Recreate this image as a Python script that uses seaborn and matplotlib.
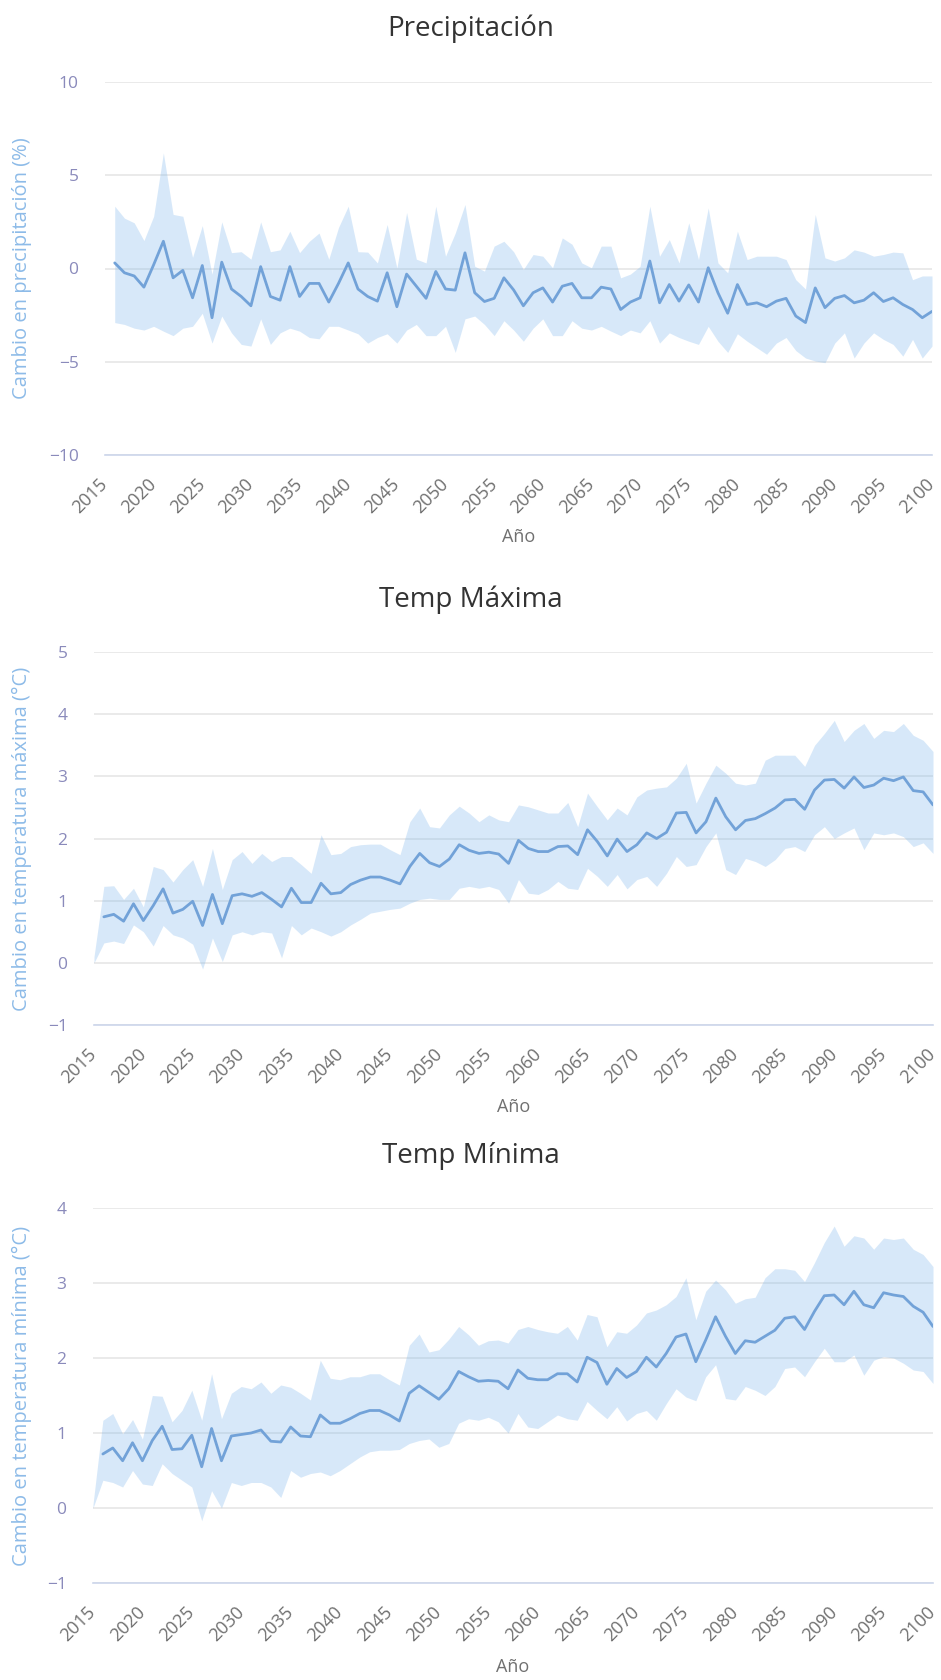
import matplotlib
matplotlib.use("Agg")
import matplotlib.pyplot as plt
import matplotlib.transforms as mtransforms
import seaborn as sns
import numpy as np

# years of the band (2015 is only a baseline point for the band)
years = list(range(2015, 2101))
nan = float('nan')

# ---- Precipitación (%) ----
precMean = [nan,
            0.3, -0.23, -0.4, -1.0, 0.2, 1.46, -0.5, -0.1, -1.57, 0.16,
            -2.64, 0.34, -1.1, -1.5, -2.0, 0.1, -1.5, -1.7, 0.1, -1.5,
            -0.8, -0.8, -1.8, -0.8, 0.3, -1.1, -1.5, -1.75, -0.23, -2.05,
            -0.3, -0.95, -1.6, -0.16, -1.1, -1.16, 0.84, -1.3, -1.77, -1.6,
            -0.5, -1.15, -2.0, -1.3, -1.04, -1.8, -0.95, -0.8, -1.57, -1.57,
            -1.0, -1.1, -2.2, -1.8, -1.57, 0.4, -1.84, -0.86, -1.75, -0.88,
            -1.8, 0.04, -1.3, -2.4, -0.86, -1.93, -1.84, -2.05, -1.75, -1.6,
            -2.55, -2.9, -1.04, -2.1, -1.6, -1.45, -1.84, -1.7, -1.3, -1.77,
            -1.57, -1.93, -2.2, -2.64, -2.3]
precUpper = [nan,
             3.34, 2.7, 2.45, 1.5, 2.8, 6.2, 2.9, 2.8, 0.6, 2.3,
             -0.3, 2.5, 0.85, 0.9, 0.5, 2.5, 0.9, 1.0, 2.0, 0.85,
             1.46, 1.9, 0.5, 2.2, 3.34, 0.9, 0.88, 0.3, 2.36, 0.03,
             3.0, 0.5, 0.3, 3.34, 0.66, 1.9, 3.43, 0.12, -0.14, 1.2,
             1.46, 0.9, -0.05, 0.75, 0.66, 0.04, 1.64, 1.3, 0.3, 0.04,
             1.2, 1.2, -0.5, -0.3, 0.12, 3.34, 0.66, 1.55, 0.3, 2.45,
             0.48, 3.25, 0.3, -0.23, 2.0, 0.48, 0.66, 0.66, 0.66, 0.48,
             -0.6, -1.1, 2.9, 0.57, 0.4, 0.57, 1.0, 0.88, 0.66, 0.75,
             0.88, 0.84, -0.6, -0.4, -0.4]
precLower = [nan,
             -2.9, -3.0, -3.2, -3.3, -3.1, -3.36, -3.6, -3.2, -3.1, -2.4,
             -4.0, -2.55, -3.45, -4.07, -4.16, -2.7, -4.07, -3.45, -3.2, -3.36,
             -3.7, -3.77, -3.1, -3.1, -3.3, -3.5, -4.0, -3.7, -3.5, -4.0,
             -3.3, -3.0, -3.6, -3.6, -3.1, -4.5, -2.7, -2.55, -3.0, -3.6,
             -2.8, -3.3, -3.9, -3.2, -2.7, -3.6, -3.6, -2.8, -3.2, -3.3,
             -3.1, -3.36, -3.6, -3.3, -3.45, -2.8, -4.0, -3.45, -3.7, -3.9,
             -4.07, -3.1, -3.9, -4.5, -3.5, -3.9, -4.25, -4.6, -4.0, -3.7,
             -4.4, -4.8, -4.96, -5.05, -4.0, -3.45, -4.8, -4.0, -3.45, -3.8,
             -4.07, -4.7, -3.8, -4.8, -4.16]

# ---- Temp Máxima (°C) ----
tmaxMean = [nan,
            0.74, 0.78, 0.67, 0.95, 0.68, 0.92, 1.19, 0.8, 0.86, 0.99,
            0.6, 1.1, 0.63, 1.08, 1.11, 1.07, 1.13, 1.02, 0.9, 1.2,
            0.97, 0.97, 1.28, 1.11, 1.13, 1.26, 1.33, 1.38, 1.38, 1.33,
            1.27, 1.55, 1.76, 1.61, 1.55, 1.67, 1.9, 1.81, 1.76, 1.78,
            1.75, 1.6, 1.97, 1.84, 1.79, 1.79, 1.87, 1.88, 1.74, 2.14,
            1.95, 1.72, 1.99, 1.79, 1.9, 2.09, 2.0, 2.1, 2.41, 2.42,
            2.09, 2.27, 2.65, 2.35, 2.14, 2.29, 2.32, 2.4, 2.49, 2.62,
            2.63, 2.47, 2.78, 2.94, 2.95, 2.81, 2.99, 2.82, 2.86, 2.97,
            2.93, 2.99, 2.77, 2.75, 2.54]
tmaxUpper = [0.1,
             1.23, 1.24, 1.02, 1.2, 0.9, 1.55, 1.5, 1.3, 1.5, 1.66,
             1.23, 1.84, 1.18, 1.66, 1.79, 1.6, 1.76, 1.63, 1.71, 1.71,
             1.58, 1.44, 2.06, 1.74, 1.76, 1.87, 1.9, 1.91, 1.91, 1.82,
             1.74, 2.27, 2.49, 2.19, 2.17, 2.38, 2.52, 2.41, 2.27, 2.38,
             2.3, 2.27, 2.54, 2.51, 2.46, 2.41, 2.41, 2.58, 2.19, 2.73,
             2.51, 2.3, 2.49, 2.38, 2.67, 2.78, 2.81, 2.83, 2.97, 3.21,
             2.57, 2.89, 3.18, 3.05, 2.89, 2.86, 2.89, 3.26, 3.34, 3.34,
             3.34, 3.16, 3.5, 3.69, 3.9, 3.56, 3.74, 3.85, 3.61, 3.74,
             3.72, 3.85, 3.66, 3.58, 3.4]
tmaxLower = [0.0,
             0.32, 0.35, 0.31, 0.61, 0.5, 0.27, 0.6, 0.45, 0.4, 0.3,
             -0.1, 0.4, 0.02, 0.45, 0.5, 0.45, 0.5, 0.48, 0.08, 0.6,
             0.45, 0.56, 0.5, 0.43, 0.5, 0.61, 0.7, 0.8, 0.83, 0.86,
             0.88, 0.96, 1.02, 1.04, 1.02, 1.02, 1.2, 1.23, 1.2, 1.23,
             1.18, 0.96, 1.34, 1.12, 1.1, 1.18, 1.31, 1.2, 1.18, 1.52,
             1.39, 1.23, 1.42, 1.19, 1.34, 1.39, 1.23, 1.44, 1.71, 1.55,
             1.58, 1.87, 2.09, 1.5, 1.42, 1.68, 1.63, 1.55, 1.66, 1.84,
             1.87, 1.79, 2.06, 2.19, 2.0, 2.09, 2.17, 1.82, 2.09, 2.06,
             2.09, 2.03, 1.87, 1.93, 1.76]

# ---- Temp Mínima (°C) ----
tminMean = [nan,
            0.72, 0.8, 0.63, 0.87, 0.63, 0.9, 1.09, 0.78, 0.79, 0.97,
            0.55, 1.06, 0.63, 0.96, 0.98, 1.0, 1.04, 0.89, 0.88, 1.08,
            0.96, 0.95, 1.24, 1.13, 1.13, 1.19, 1.26, 1.3, 1.3, 1.24,
            1.16, 1.53, 1.63, 1.54, 1.45, 1.59, 1.82, 1.75, 1.69, 1.7,
            1.69, 1.59, 1.84, 1.73, 1.71, 1.71, 1.79, 1.79, 1.68, 2.01,
            1.94, 1.65, 1.86, 1.74, 1.82, 2.01, 1.88, 2.06, 2.28, 2.32,
            1.95, 2.24, 2.55, 2.29, 2.06, 2.23, 2.21, 2.29, 2.37, 2.53,
            2.55, 2.38, 2.62, 2.83, 2.84, 2.71, 2.89, 2.71, 2.67, 2.87,
            2.84, 2.82, 2.69, 2.61, 2.42]
tminUpper = [0.05,
             1.17, 1.26, 0.99, 1.18, 0.92, 1.5, 1.49, 1.15, 1.3, 1.57,
             1.17, 1.79, 1.19, 1.53, 1.62, 1.59, 1.68, 1.53, 1.64, 1.61,
             1.53, 1.44, 1.97, 1.73, 1.71, 1.75, 1.75, 1.79, 1.79, 1.71,
             1.64, 2.17, 2.32, 2.08, 2.11, 2.25, 2.42, 2.31, 2.17, 2.23,
             2.24, 2.2, 2.38, 2.42, 2.38, 2.35, 2.33, 2.42, 2.24, 2.58,
             2.55, 2.15, 2.35, 2.33, 2.44, 2.6, 2.64, 2.71, 2.82, 3.07,
             2.51, 2.89, 3.04, 2.91, 2.73, 2.79, 2.81, 3.07, 3.19, 3.19,
             3.17, 3.02, 3.27, 3.54, 3.76, 3.49, 3.63, 3.6, 3.45, 3.6,
             3.58, 3.6, 3.45, 3.38, 3.22]
tminLower = [0.0,
             0.37, 0.34, 0.28, 0.5, 0.32, 0.3, 0.59, 0.46, 0.37, 0.28,
             -0.17, 0.23, 0.0, 0.34, 0.3, 0.34, 0.34, 0.28, 0.14, 0.5,
             0.41, 0.46, 0.48, 0.43, 0.5, 0.59, 0.68, 0.75, 0.77, 0.77,
             0.78, 0.86, 0.9, 0.92, 0.81, 0.86, 1.13, 1.19, 1.17, 1.21,
             1.15, 1.0, 1.26, 1.08, 1.06, 1.15, 1.24, 1.19, 1.17, 1.42,
             1.3, 1.19, 1.35, 1.16, 1.26, 1.3, 1.17, 1.39, 1.59, 1.48,
             1.43, 1.75, 1.91, 1.46, 1.44, 1.62, 1.57, 1.5, 1.62, 1.86,
             1.88, 1.75, 1.95, 2.13, 1.95, 1.95, 2.04, 1.77, 1.97, 2.02,
             2.0, 1.93, 1.84, 1.82, 1.66]

titles = ['Precipitación', 'Temp Máxima', 'Temp Mínima']
yLabels = ['Cambio en precipitación (%)',
           'Cambio en temperatura máxima (°C)',
           'Cambio en temperatura mínima (°C)']
yTicks = [[-10, -5, 0, 5, 10], [-1, 0, 1, 2, 3, 4, 5], [-1, 0, 1, 2, 3, 4]]
xTicks = list(range(2015, 2101, 5))

sns.set_theme(style="white")
plt.rcParams['font.family'] = ['Open Sans', 'DejaVu Sans']

W, H = 941, 1680
fig = plt.figure(figsize=(W / 100, H / 100), dpi=100)

# plot boxes in pixels: left, right, top, bottom; title baseline y; x-title centre y
boxes = [(105, 932, 82, 455, 36, 537),
         (94, 933, 652, 1025, 607, 1107),
         (93, 933, 1208, 1583, 1163, 1667)]
series = [(precLower, precMean, precUpper),
          (tmaxLower, tmaxMean, tmaxUpper),
          (tminLower, tminMean, tminUpper)]

bandColor = '#7cb5ec'
lineColor = '#72a2d8'

# shift the rotated year labels a little to the right, like the original
labelShift = mtransforms.ScaledTranslation(2 / 100, 0, fig.dpi_scale_trans)

for i, (l, r, t, b, ty, xy) in enumerate(boxes):
    ax = fig.add_axes([l / W, 1 - b / H, (r - l) / W, (b - t) / H])
    lower, mean, upper = series[i]

    ax.fill_between(years, lower, upper, color=bandColor, alpha=0.3, lw=0)
    sns.lineplot(x=years, y=mean, ax=ax, color=lineColor, lw=2)

    ax.set_xlim(2015, 2100)
    ax.set_ylim(yTicks[i][0], yTicks[i][-1])
    ax.set_yticks(yTicks[i])
    ax.set_xticks(xTicks)
    ax.set_xticklabels([str(x) for x in xTicks], rotation=45, ha='right',
                       va='center', rotation_mode='anchor')
    for lab in ax.get_xticklabels():
        lab.set_transform(lab.get_transform() + labelShift)

    ax.grid(axis='y', color='#e6e6e6', lw=1.2)
    ax.set_axisbelow(True)
    for side in ['top', 'right', 'left']:
        ax.spines[side].set_visible(False)
    ax.spines['bottom'].set_color('#ccd6eb')
    ax.spines['bottom'].set_linewidth(1.2)

    ax.tick_params(axis='x', direction='out', length=10, width=1,
                   color='#ccd6eb', labelcolor='#707070', labelsize=13, pad=9)
    ax.tick_params(axis='y', length=0, labelcolor='#8a8abb', labelsize=12.5, pad=19)

    ax.set_ylabel(yLabels[i], color='#8dbbe8', fontsize=14.5)
    ax.yaxis.set_label_coords((32 - l) / (r - l), 0.5)
    ax.set_xlabel('Año', color='#707070', fontsize=13)
    ax.xaxis.set_label_coords(0.5, -(xy - b) / (b - t))
    ax.xaxis.label.set_va('center')

    fig.text(0.5, 1 - ty / H, titles[i], ha='center', va='baseline',
             fontsize=20, color='#333333')

fig.savefig('out.png', dpi=100, facecolor='white')
